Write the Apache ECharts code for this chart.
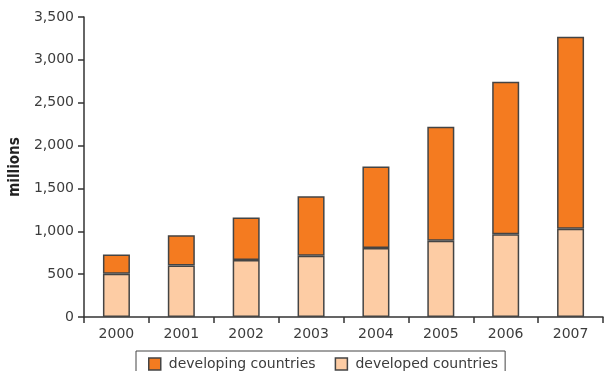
<!DOCTYPE html>
<html>
<head>
<meta charset="utf-8">
<script src="https://cdn.jsdelivr.net/npm/echarts@6/dist/echarts.min.js"></script>
<style>html,body{margin:0;padding:0;background:#fff;}#c{width:608px;height:371px;}</style>
</head>
<body>
<div id="c"></div>
<script>
const years = ['2000','2001','2002','2003','2004','2005','2006','2007'];
const developed = [505, 600, 665, 715, 805, 890, 965, 1030];
const developing = [225, 355, 495, 695, 950, 1330, 1780, 2240];
const yTicks = { min: 0, max: 3500, interval: 500 };
const seriesNames = ['developing countries', 'developed countries'];

const chart = echarts.init(document.getElementById('c'), null, { renderer: 'canvas' });
const font = 'DejaVu Sans';
chart.setOption({
  animation: false,
  backgroundColor: '#fff',
  grid: { left: 84, right: 5, top: 17, bottom: 54, containLabel: false },
  legend: {
    data: seriesNames,
    left: 136, top: 351,
    padding: [6, 7, 6, 12],
    borderColor: '#444', borderWidth: 1,
    itemWidth: 12, itemHeight: 12, itemGap: 19,
    icon: 'rect',
    itemStyle: { borderColor: '#444', borderWidth: 1.5 },
    textStyle: { fontFamily: font, fontSize: 14, color: '#3c3c3c', padding: [0, 0, 0, 3] }
  },
  xAxis: {
    type: 'category', data: years,
    axisLine: { lineStyle: { color: '#333', width: 1.5 } },
    axisTick: { show: true, length: 6, lineStyle: { color: '#333', width: 1.5 } },
    axisLabel: { fontFamily: font, fontSize: 14, color: '#3c3c3c', margin: 10 }
  },
  yAxis: {
    type: 'value', min: yTicks.min, max: yTicks.max, interval: yTicks.interval,
    name: 'millions', nameLocation: 'middle', nameGap: 60, nameRotate: 90,
    nameTextStyle: { fontFamily: '"DejaVu Sans Condensed", "Liberation Sans Narrow", sans-serif', fontWeight: 'bold', fontSize: 15, color: '#222' },
    splitLine: { show: false },
    axisLine: { show: true, lineStyle: { color: '#333', width: 1.5 } },
    axisTick: { show: true, length: 6, lineStyle: { color: '#333', width: 1.5 } },
    axisLabel: { fontFamily: font, fontSize: 14, color: '#3c3c3c', margin: 10,
      formatter: v => v.toLocaleString('en-US') }
  },
  series: [
    { name: seriesNames[1], type: 'bar', stack: 'a', data: developed, barWidth: 27,
      itemStyle: { color: '#FDCCA4', borderColor: '#444', borderWidth: 1.5 } },
    { name: seriesNames[0], type: 'bar', stack: 'a', data: developing, barWidth: 27,
      itemStyle: { color: '#F47B20', borderColor: '#444', borderWidth: 1.5 } }
  ]
});
</script>
</body>
</html>
